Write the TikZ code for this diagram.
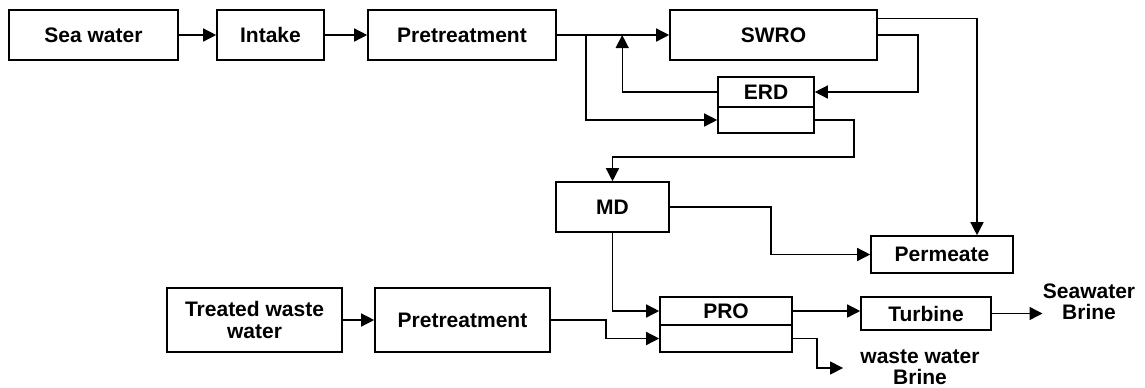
\documentclass[tikz,border=0pt]{standalone}
\usepackage{fontspec}
\setmainfont{Liberation Sans}
\usetikzlibrary{arrows.meta,calc}

\begin{document}
\begin{tikzpicture}[x=0.5pt,y=-0.5pt,>={Triangle[length=6.5pt,width=6.5pt]},
  box/.style={draw,line width=0.8pt,inner sep=0pt,align=center,
    font=\bfseries\fontsize{10.5}{11}\selectfont},
  boxsize/.style 2 args={minimum width=#1*0.5pt,minimum height=#2*0.5pt},
  txt/.style={inner sep=0pt,align=center,font=\bfseries\fontsize{10.5}{10.5}\selectfont}]
  \useasboundingbox (0,0) rectangle (1145,387);
  % sea water line
  \node[box,boxsize={169}{50}] (sea)    at (93.5,35)  {Sea water};
  \node[box,boxsize={107}{50}] (intake) at (270.5,35) {Intake};
  \node[box,boxsize={188}{50}] (pre1)   at (462,35)   {Pretreatment};
  \node[box,boxsize={207}{50}] (swro)   at (773.5,35) {SWRO};
  \node[box,boxsize={96}{30}]  (erd)    at (766,92)   {ERD};
  \node[box,boxsize={96}{26}]  (erdlo)  at (766,120)  {};
  \node[box,boxsize={113}{50}] (md)     at (612.5,207) {MD};
  \node[box,boxsize={142}{37}] (perm)   at (942,254.5) {Permeate};
  % waste water line
  \node[box,boxsize={175}{64}] (tww)    at (254.5,320) {Treated waste\\water};
  \node[box,boxsize={175}{64}] (pre2)   at (462.5,320) {Pretreatment};
  \node[box,boxsize={132}{28}] (pro)    at (726,311)   {PRO};
  \node[box,boxsize={132}{27}] (prolo)  at (726,338.5) {};
  \node[box,boxsize={130}{33}] (turb)   at (926,313.5) {Turbine};
  \node[txt] (sb)  at (1089,302) {Seawater\\Brine};
  \node[txt] (wwb) at (920,367)  {waste water\\Brine};
\tikzset{flow/.style={->,line width=0.7pt}}
\draw[flow] (sea) -- (intake);
\draw[flow] (intake) -- (pre1);
\draw[flow] (pre1) -- (swro);
\draw[flow] (pre1.east) -- ++(29,0) |- (erdlo.west);
\draw[flow] (erd.west) -| ($(swro.west)+(-47,0)$);
\draw[flow] (swro.east) -- ++(40,0) |- (erd.east);
\draw[flow] ($(swro.north east)+(0,9)$) -| ($(perm.north)+(35,0)$);
\draw[flow] (erdlo.east) -- ++(39,0) -- ++(0,37) -| (md.north);
\draw[flow] (md.east) -- ++(101,0) |- (perm.west);
\draw[flow] (md.south) |- (pro.west);
\draw[flow] (tww) -- (pre2);
\draw[flow] (pre2.east) -- ++(55,0) |- (prolo.west);
\draw[flow] (pro.east) -- (turb.west |- pro.east);
\draw[flow] (turb.east) -- (turb.east -| sb.west);
\draw[flow] (prolo.east) -- ++(24,0) |- ($(wwb.west)+(-17,1)$);
\end{tikzpicture}
\end{document}
